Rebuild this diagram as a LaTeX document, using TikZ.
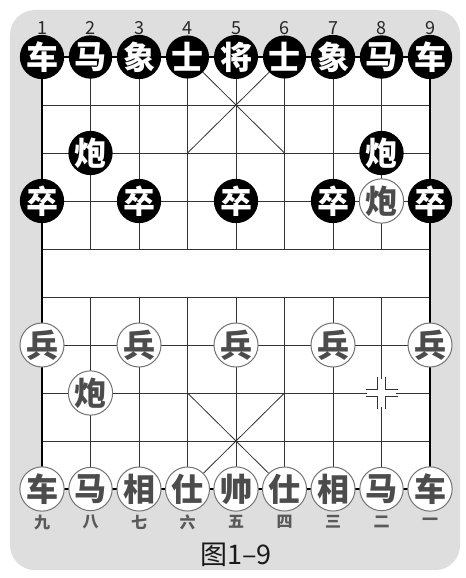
\documentclass[tikz,border=0pt]{standalone}
\usepackage{fontspec}
\newfontfamily\cjk{Noto Sans CJK SC}
\usetikzlibrary{positioning}

\begin{document}
\begin{tikzpicture}[
  x=48.5pt, y=-48pt,
  gridline/.style={black!80, line width=0.8pt},
  frameline/.style={black, line width=2.4pt},
  blackpc/.style={circle, fill=black, text=white, minimum size=42pt, inner sep=0pt, font=\cjk\bfseries\fontsize{32}{32}\selectfont},
  redpc/.style={circle, draw=black!55, line width=1pt, fill=white, text=black!70, minimum size=41pt, inner sep=0pt, font=\cjk\bfseries\fontsize{32}{32}\selectfont},
  filenum/.style={font=\cjk\fontsize{18}{18}\selectfont, text=black!85},
  cnnum/.style={font=\cjk\bfseries\fontsize{16}{16}\selectfont, text=black!65}
]
\useasboundingbox (-0.866,-1.1875) rectangle (8.722,10.854);
% page and board
\fill[black!13, rounded corners=25pt] (-0.66,-0.98) rectangle (8.62,10.69);
\fill[white] (0,0) rectangle (8,9);
\foreach \r in {0,...,9} \draw[gridline] (0,\r) -- (8,\r);
\foreach \c in {1,...,7} {
  \draw[gridline] (\c,0) -- (\c,4);
  \draw[gridline] (\c,5) -- (\c,9);
}
\draw[gridline] (3,0) -- (5,2) (5,0) -- (3,2);
\draw[gridline] (3,7) -- (5,9) (5,7) -- (3,9);
\draw[frameline] (0,0) rectangle (8,9);

% empty point marker
\fill[white] (6.7,6.7) rectangle (7.3,7.3);
\draw[gridline] (6.67,6.92) -- (6.92,6.92) -- (6.92,6.67)
                (7.33,6.92) -- (7.08,6.92) -- (7.08,6.67)
                (6.67,7.08) -- (6.92,7.08) -- (6.92,7.33)
                (7.33,7.08) -- (7.08,7.08) -- (7.08,7.33);

% black side
\node[blackpc] (bche1) at (0,0) {车};
\node[blackpc] (bma1) at (1,0) {马};
\node[blackpc] (bxiang1) at (2,0) {象};
\node[blackpc] (bshi1) at (3,0) {士};
\node[blackpc] (bjiang) at (4,0) {将};
\node[blackpc] (bshi2) at (5,0) {士};
\node[blackpc] (bxiang2) at (6,0) {象};
\node[blackpc] (bma2) at (7,0) {马};
\node[blackpc] (bche2) at (8,0) {车};
\node[blackpc] (bpao1) at (1,2) {炮};
\node[blackpc] (bpao2) at (7,2) {炮};
\node[blackpc] (bzu1) at (0,3) {卒};
\node[blackpc] (bzu2) at (2,3) {卒};
\node[blackpc] (bzu3) at (4,3) {卒};
\node[blackpc] (bzu4) at (6,3) {卒};
\node[blackpc] (bzu5) at (8,3) {卒};

% red side
\node[redpc] (rpao2) at (7,3) {炮};
\node[redpc] (rbing1) at (0,6) {兵};
\node[redpc] (rbing2) at (2,6) {兵};
\node[redpc] (rbing3) at (4,6) {兵};
\node[redpc] (rbing4) at (6,6) {兵};
\node[redpc] (rbing5) at (8,6) {兵};
\node[redpc] (rpao1) at (1,7) {炮};
\node[redpc] (rche1) at (0,9) {车};
\node[redpc] (rma1) at (1,9) {马};
\node[redpc] (rxiang1) at (2,9) {相};
\node[redpc] (rshi1) at (3,9) {仕};
\node[redpc] (rshuai) at (4,9) {帅};
\node[redpc] (rshi2) at (5,9) {仕};
\node[redpc] (rxiang2) at (6,9) {相};
\node[redpc] (rma2) at (7,9) {马};
\node[redpc] (rche2) at (8,9) {车};

% file numbers
\foreach \n [count=\c from 0] in {1,...,9}
  \node[filenum] (top\n) at (\c,-0.6) {\n};
\foreach \n [count=\c from 0] in {九,八,七,六,五,四,三,二,一}
  \node[cnnum] (bot\c) at (\c,9.69) {\n};

\node[font=\cjk\fontsize{27}{27}\selectfont, text=black!90] (caption) at (4,10.38) {图1–9};
\end{tikzpicture}
\end{document}
